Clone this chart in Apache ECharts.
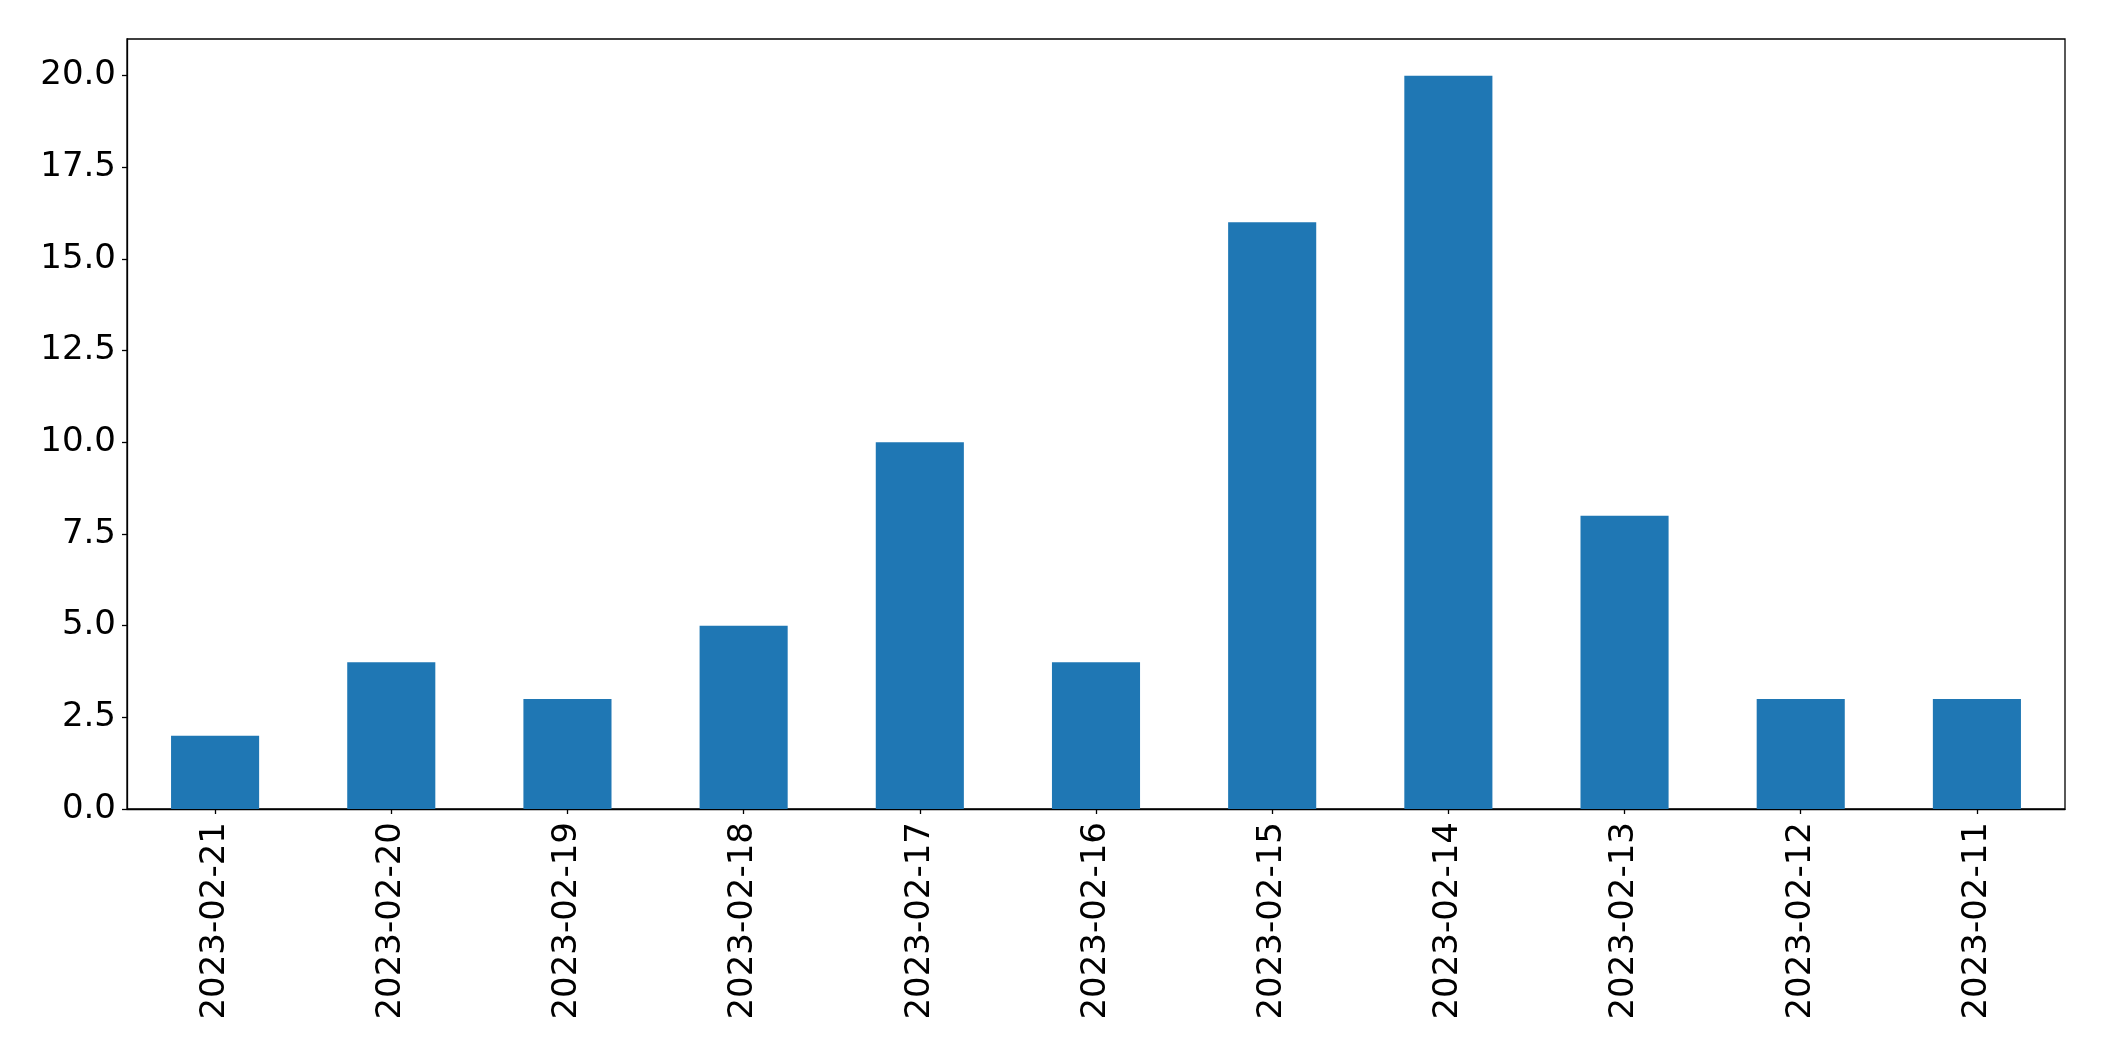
<!DOCTYPE html>
<html><head><meta charset="utf-8">
<script src="https://cdn.jsdelivr.net/npm/echarts@6/dist/echarts.min.js"></script>
<style>html,body{margin:0;padding:0;background:#fff}#c{width:2104px;height:1061px}</style>
</head><body><div id="c"></div>
<script>
const categories = ["2023-02-21","2023-02-20","2023-02-19","2023-02-18","2023-02-17","2023-02-16","2023-02-15","2023-02-14","2023-02-13","2023-02-12","2023-02-11"];
const values = [2,4,3,5,10,4,16,20,8,3,3];
const yTicks = [0,2.5,5,7.5,10,12.5,15,17.5,20];
const chart = echarts.init(document.getElementById('c'));
const font = 'DejaVu Sans';
chart.setOption({
  animation:false,
  backgroundColor:'#fff',
  grid:{left:127,top:39,width:1938,height:770,show:true,borderColor:'#000',borderWidth:1.3,backgroundColor:'transparent'},
  xAxis:{type:'category',data:categories,
    axisLine:{show:true,lineStyle:{color:'#000',width:1.3}},
    axisTick:{show:true,alignWithLabel:true,length:5,lineStyle:{color:'#000',width:1.3}},
    axisLabel:{rotate:90,margin:13,color:'#000',fontSize:34,fontFamily:font,interval:0},
    splitLine:{show:false}},
  yAxis:{type:'value',min:0,max:21,interval:2.5,
    axisLine:{show:true,lineStyle:{color:'#000',width:1.3}},
    axisTick:{show:true,length:5,customValues:yTicks,lineStyle:{color:'#000',width:1.3}},
    axisLabel:{margin:11,color:'#000',fontSize:34,fontFamily:font,customValues:yTicks,
      formatter:function(v){return v>20.01?'':v.toFixed(1);}},
    splitLine:{show:false}},
  series:[{type:'bar',data:values,barWidth:'50%',itemStyle:{color:'#1f77b4'}}]
});
</script></body></html>
